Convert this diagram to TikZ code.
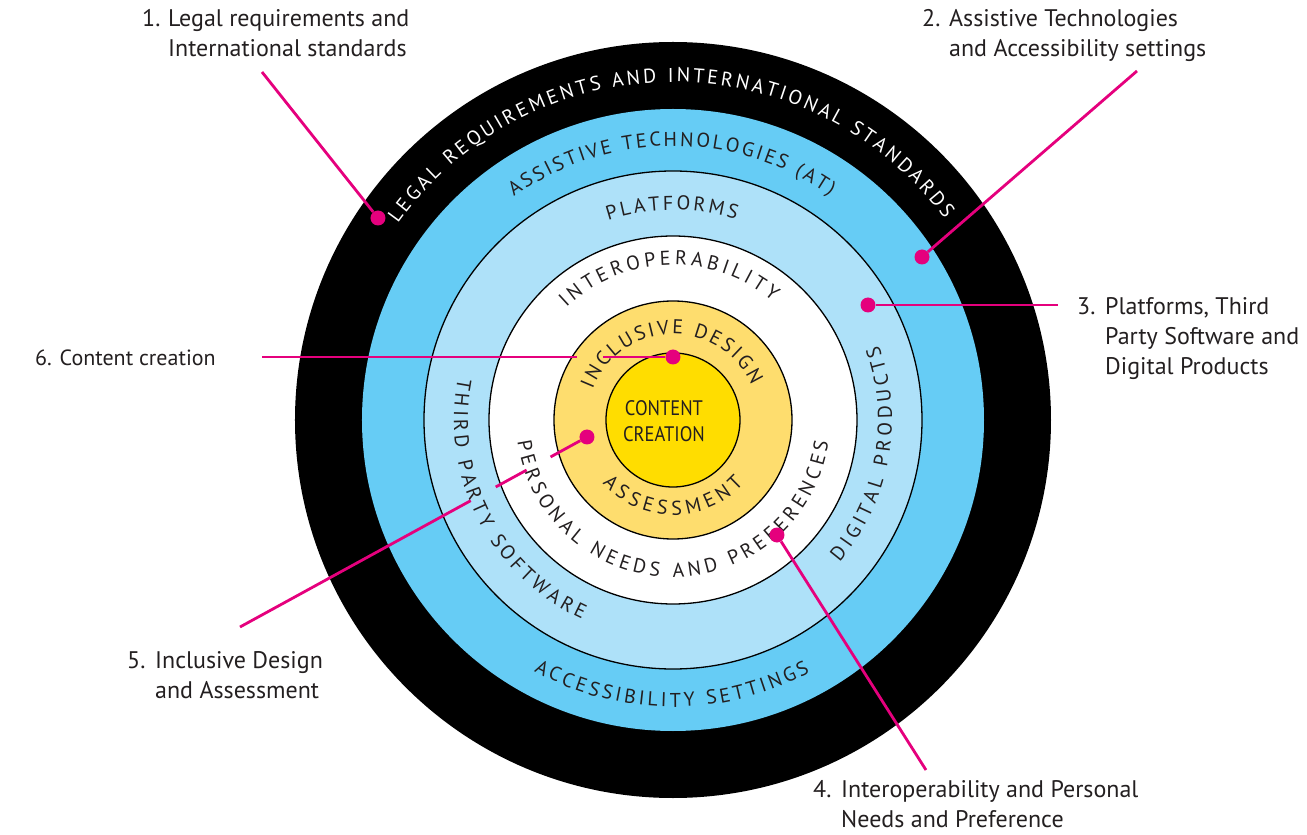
\documentclass[tikz,border=0pt]{standalone}
\usepackage{fontspec}
\setmainfont{PT Sans}
\newfontfamily\ringfam{PT Sans}
\usetikzlibrary{decorations.text,calc}
\definecolor{ringblue}{HTML}{66CCF5}
\definecolor{ringlight}{HTML}{AEE1F9}
\definecolor{ringyel}{HTML}{FEDD6E}
\definecolor{coreyel}{HTML}{FFDD00}
\definecolor{hotpink}{HTML}{E5007D}
\definecolor{txtdark}{HTML}{231F20}
\newcommand\ringfmt{\ringfam\fontsize{20}{24}\selectfont}
\tikzset{
  ringtext/.style 2 args={decorate, decoration={text along path, text align={fit to path}, text color=#1, text={|\ringfmt|#2}}},
  border/.style={draw=black, line width=1.3pt},
  callout/.style={draw=hotpink, line width=2.8pt},
  pdot/.style={circle, fill=hotpink, inner sep=0pt, minimum size=15pt},
  lbl/.style={anchor=base west, inner sep=0pt, text=txtdark, font=\fontsize{24}{28}\selectfont},
  lblsmall/.style={lbl, font=\fontsize{22}{26}\selectfont},
  core/.style={inner sep=0pt, text=txtdark, font=\fontsize{21}{24}\selectfont}
}
\begin{document}
\begin{tikzpicture}[x=1pt,y=1pt]
\useasboundingbox (-673,-415) rectangle (634,420);
% rings
\fill[black] (0,0) circle[radius=378];
\fill[ringblue] (0,0) circle[radius=311];
\filldraw[fill=ringlight, border] (0,0) circle[radius=249];
\filldraw[fill=white, border] (0,0) circle[radius=184];
\filldraw[fill=ringyel, border] (0,0) circle[radius=119];
\filldraw[fill=coreyel, border] (0,0) circle[radius=67];
% ring texts
\path[ringtext={white}{LEGAL REQUIREMENTS AND INTERNATIONAL STANDARDS}] (144.5:338) arc[start angle=144.5, end angle=36.5, radius=338];
\path[ringtext={txtdark}{ASSISTIVE TECHNOLOGIES (AT)}] (125.5:274) arc[start angle=125.5, end angle=55, radius=274];
\path[ringtext={txtdark}{PLATFORMS}] (108:210) arc[start angle=108, end angle=72.5, radius=210];
\path[ringtext={txtdark}{INTEROPERABILITY}] (133.5:155) arc[start angle=133.5, end angle=50, radius=155];
\path[ringtext={txtdark}{INCLUSIVE DESIGN}] (159:86) arc[start angle=159, end angle=24, radius=86];
\path[ringtext={txtdark}{ASSESSMENT}] (222:95) arc[start angle=222, end angle=318, radius=95];
\path[ringtext={txtdark}{PERSONAL NEEDS AND PREFERENCES}] (188:157) arc[start angle=188, end angle=352, radius=157];
\path[ringtext={txtdark}{THIRD PARTY SOFTWARE}] (169:219) arc[start angle=169, end angle=245.5, radius=219];
\path[ringtext={txtdark}{DIGITAL PRODUCTS}] (-40.5:219) arc[start angle=-40.5, end angle=20, radius=219];
\path[ringtext={txtdark}{ACCESSIBILITY SETTINGS}] (241:287) arc[start angle=241, end angle=298.5, radius=287];
% core
\node[core] (cc1) at (-9,12) {\scalebox{0.88}[1]{CONTENT}};
\node[core] (cc2) at (-9,-14) {\scalebox{0.88}[1]{CREATION}};
% labels
\node[lbl] (n1) at (-531,393) {1.};
\node[lbl] (t1a) at (-505,393) {Legal requirements and};
\node[lbl] (t1b) at (-505,363) {International standards};
\node[lbl] (n2) at (249,393) {2.};
\node[lbl] (t2a) at (276,393) {Assistive Technologies};
\node[lbl] (t2b) at (276,363) {and Accessibility settings};
\node[lbl] (n3) at (404,105) {3.};
\node[lbl] (t3a) at (432,105) {Platforms, Third};
\node[lbl] (t3b) at (432,75) {Party Software and};
\node[lbl] (t3c) at (432,45) {Digital Products};
\node[lbl] (n4) at (140,-377) {4.};
\node[lbl] (t4a) at (168,-377) {Interoperability and Personal};
\node[lbl] (t4b) at (168,-407) {Needs and Preference};
\node[lbl] (n5) at (-546,-248) {5.};
\node[lbl] (t5a) at (-518,-248) {Inclusive Design};
\node[lbl] (t5b) at (-518,-278) {and Assessment};
\node[lblsmall] (t6) at (-638,54) {6. Content creation};
% callout ends and dots
\coordinate (e1) at (-411,348);
\coordinate (e2) at (464,349);
\coordinate (e3) at (385,115);
\coordinate (e4) at (253,-350);
\coordinate (e5) at (-433,-207);
\coordinate (e6) at (-411,63);
\node[pdot] (d1) at (-295,202) {};
\node[pdot] (d2) at (249,163) {};
\node[pdot] (d3) at (195,115) {};
\node[pdot] (d4) at (104,-115) {};
\node[pdot] (d5) at (-86,-17) {};
\node[pdot] (d6) at (0,63) {};
% connectors
\draw[callout] (e1) -- (d1);
\draw[callout] (e2) -- (d2);
\draw[callout] (e3) -- (d3);
\draw[callout] (e4) -- (d4);
\draw[callout] (d5) -- ($(d5.center)!0.105!(e5)$);
\draw[callout] ($(d5.center)!0.174!(e5)$) -- ($(d5.center)!0.263!(e5)$);
\draw[callout] ($(d5.center)!0.335!(e5)$) -- (e5);
\draw[callout] (d6) -- ($(d6.center)!0.170!(e6)$);
\draw[callout] ($(d6.center)!0.234!(e6)$) -- (e6);
\end{tikzpicture}
\end{document}
